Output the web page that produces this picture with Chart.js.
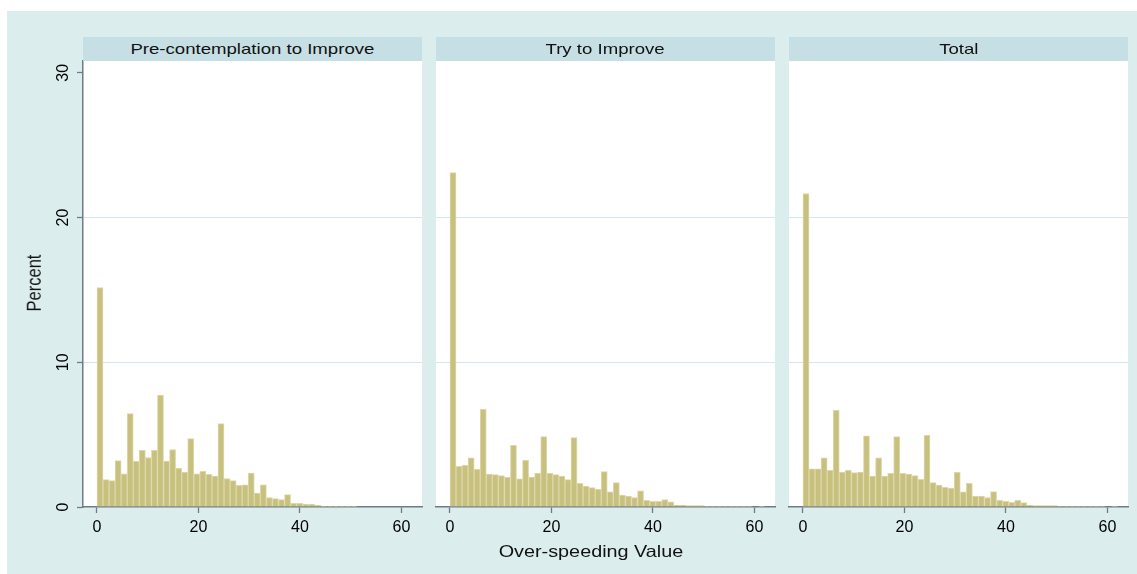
<!DOCTYPE html>
<html>
<head>
<meta charset="utf-8">
<title>Over-speeding Value histograms</title>
<script src="https://cdn.jsdelivr.net/npm/chart.js@4.4.1/dist/chart.umd.min.js"></script>
<style>
  html, body { margin: 0; padding: 0; background: #ffffff; }
  #page { position: relative; width: 1137px; height: 574px; overflow: hidden;
          font-family: "Liberation Sans", Arial, Helvetica, sans-serif; }
  #frame { position: absolute; left: 7px; top: 11px; right: 0; bottom: 0; background: #dcedee; }
  canvas { position: absolute; top: 0; }
  .strip { position: absolute; top: 37px; height: 24px; width: 339px; background: #c6dfe4;
           text-align: center; line-height: 24px; font-size: 15px; color: #111; white-space: nowrap; }
  .strip span { display: inline-block; transform: scaleX(1.24); }
  #ytitle { position: absolute; left: 34px; top: 283px; width: 200px; text-align: center;
            font-size: 16.5px; color: #111; transform: translate(-50%, -50%) rotate(-90deg) scaleY(1.18); }
  #xtitle { position: absolute; left: 591px; top: 551px; width: 400px; text-align: center;
            font-size: 16.5px; color: #111; transform: translate(-50%, -50%) scaleX(1.2); }
</style>
</head>
<body>
<div id="page">
  <div id="frame"></div>
  <canvas id="c1" width="430" height="574" style="left:0px"></canvas>
  <canvas id="c2" width="350" height="574" style="left:430px"></canvas>
  <canvas id="c3" width="354" height="574" style="left:783px"></canvas>
  <div class="strip" style="left:83px"><span id="t1"></span></div>
  <div class="strip" style="left:436px"><span id="t2"></span></div>
  <div class="strip" style="left:789px"><span id="t3"></span></div>
  <div id="ytitle">Percent</div>
  <div id="xtitle">Over-speeding Value</div>
</div>
<script>
// Histogram bins: 52 bins of equal width starting at 0
const binWidth = 62 / 52;
const xTickValues = [0, 20, 40, 60];
const yTickValues = [0, 10, 20, 30];
const panelTitles = ['Pre-contemplation to Improve', 'Try to Improve', 'Total'];

// Percent of respondents per bin
const precontemplation = [
  15.16, 1.89, 1.82, 3.20, 2.30, 6.45, 3.16, 3.92, 3.41, 3.92,
  7.74, 3.18, 3.96, 2.67, 2.42, 4.72, 2.30, 2.47, 2.26, 2.14,
  5.76, 1.96, 1.82, 1.50, 1.54, 2.35, 0.97, 1.54, 0.65, 0.58,
  0.51, 0.85, 0.25, 0.25, 0.21, 0.21, 0.12, 0.05, 0.05, 0.05,
  0.05, 0.05, 0.05, 0, 0, 0, 0, 0, 0, 0,
  0, 0
];
const tryToImprove = [
  23.11, 2.81, 2.88, 3.39, 2.60, 6.75, 2.28, 2.24, 2.17, 2.05,
  4.26, 1.94, 3.23, 2.07, 2.33, 4.86, 2.33, 2.24, 2.14, 1.89,
  4.79, 1.64, 1.45, 1.34, 1.22, 2.44, 1.04, 1.68, 0.83, 0.76,
  0.65, 1.11, 0.46, 0.39, 0.39, 0.51, 0.35, 0.14, 0.14, 0.09,
  0.09, 0.09, 0.04, 0.04, 0.04, 0.04, 0.04, 0.04, 0.04, 0.04,
  0, 0.04
];
const total = [
  21.66, 2.63, 2.63, 3.39, 2.53, 6.68, 2.42, 2.53, 2.37, 2.42,
  4.91, 2.14, 3.39, 2.14, 2.33, 4.86, 2.33, 2.28, 2.17, 1.91,
  4.95, 1.68, 1.52, 1.36, 1.31, 2.40, 1.04, 1.64, 0.76, 0.76,
  0.65, 1.06, 0.46, 0.39, 0.32, 0.46, 0.30, 0.14, 0.09, 0.09,
  0.09, 0.09, 0.04, 0.04, 0.04, 0.04, 0.04, 0.04, 0.04, 0.04,
  0, 0.04
];

const FONT = '"Liberation Sans", Arial, Helvetica, sans-serif';
const axisColor = '#6d7d83';
const gridColor = '#d3e8ee';
const barFill = '#c8c07f';
const barEdge = '#ddd8a8';

// white plot region behind the bars
const plotBackground = {
  id: 'plotBackground',
  beforeDraw(chart) {
    const { ctx, chartArea: a } = chart;
    ctx.save();
    ctx.fillStyle = '#ffffff';
    ctx.fillRect(a.left, a.top, a.right - a.left, a.bottom - a.top);
    ctx.restore();
  }
};

function makePanel(canvasId, values, showY, padLeft, padRight) {
  const points = values.map((v, i) => ({ x: (i + 0.5) * binWidth, y: v }));
  return new Chart(document.getElementById(canvasId), {
    type: 'bar',
    data: {
      datasets: [{
        data: points,
        backgroundColor: barFill,
        borderColor: barEdge,
        borderWidth: 1,
        barPercentage: 1,
        categoryPercentage: 1,
        grouped: false
      }]
    },
    plugins: [plotBackground],
    options: {
      responsive: false,
      animation: false,
      events: [],
      layout: { padding: { left: padLeft, right: padRight, top: 61, bottom: 27 } },
      plugins: { legend: { display: false }, tooltip: { enabled: false } },
      scales: {
        x: {
          type: 'linear',
          offset: false,
          min: -2.75,
          max: 64.05,
          afterBuildTicks: s => { s.ticks = xTickValues.map(v => ({ value: v })); },
          afterFit: s => { s.height = 40; },
          grid: { offset: false, drawOnChartArea: false, drawTicks: true, tickLength: 6, tickColor: axisColor, tickWidth: 1.3 },
          border: { display: true, color: axisColor, width: 1.5 },
          ticks: { font: { family: FONT, size: 16 }, color: '#000', padding: 5, maxRotation: 0, autoSkip: false }
        },
        y: {
          type: 'linear',
          min: 0,
          max: 30.82,
          afterBuildTicks: s => { s.ticks = yTickValues.map(v => ({ value: v })); },
          afterFit: s => { s.width = showY ? 83 - padLeft : 0; },
          grid: {
            color: c => (c.tick && (c.tick.value === 10 || c.tick.value === 20)) ? gridColor : 'rgba(0,0,0,0)',
            lineWidth: 1,
            drawTicks: showY,
            tickLength: 6,
            tickColor: axisColor,
            tickWidth: 1.3
          },
          border: { display: showY, color: axisColor, width: 1.5 },
          ticks: {
            display: showY,
            font: { family: FONT, size: 16 },
            color: '#000',
            minRotation: 90,
            maxRotation: 90,
            crossAlign: 'center',
            padding: 5
          }
        }
      }
    }
  });
}

makePanel('c1', precontemplation, true, 0, 8);
makePanel('c2', tryToImprove, false, 6, 5);
makePanel('c3', total, false, 6, 9);

document.getElementById('t1').textContent = panelTitles[0];
document.getElementById('t2').textContent = panelTitles[1];
document.getElementById('t3').textContent = panelTitles[2];
</script>
</body>
</html>
